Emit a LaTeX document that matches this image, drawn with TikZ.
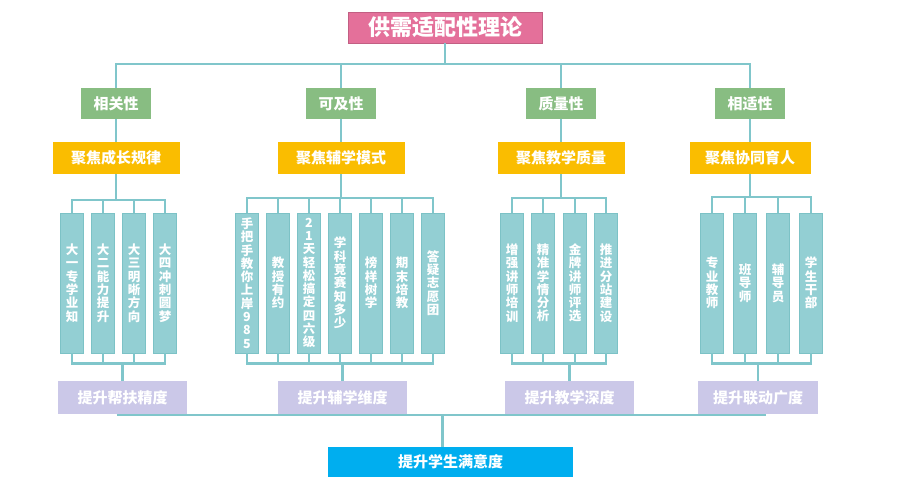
\documentclass[tikz,border=0pt]{standalone}
\usepackage{fontspec}
\newfontfamily\cjk{Noto Sans CJK SC}
\usetikzlibrary{positioning}
\definecolor{titlePink}{HTML}{E4709A}
\definecolor{axisGreen}{HTML}{88BD82}
\definecolor{focusGold}{HTML}{FABD00}
\definecolor{leafTeal}{HTML}{93CFD3}
\definecolor{leafEdge}{HTML}{7CC2C6}
\definecolor{linkTeal}{HTML}{80C6CB}
\definecolor{liftLilac}{HTML}{CBC8E8}
\definecolor{goalBlue}{HTML}{00AEEF}

\begin{document}
\begin{tikzpicture}[x=1pt, y=-1pt,
          link/.style={draw=linkTeal, line width=2.4pt},
          box/.style={inner sep=0pt, text=white, font=\cjk\bfseries\fontsize{15}{17}\selectfont},
          theory/.style={box, fill=titlePink, draw=titlePink!85!black, minimum width=194pt, minimum height=31pt, font=\cjk\bfseries\fontsize{22}{24}\selectfont},
          axis/.style={box, fill=axisGreen, minimum width=70pt, minimum height=31pt},
          focus/.style={box, fill=focusGold, minimum width=127pt, minimum height=32pt},
          leaf/.style={box, fill=leafTeal, draw=leafEdge, line width=0.6pt, minimum width=23pt, minimum height=140pt, align=center, font=\cjk\bfseries\fontsize{12.5}{13.3}\selectfont},
          lift/.style={box, fill=liftLilac, minimum width=129pt, minimum height=33pt},
          goal/.style={box, fill=goalBlue, minimum width=245pt, minimum height=30pt}]
        \useasboundingbox (0,0) rectangle (901,501);
        % top bus
        \coordinate (bus) at (445,64);
        \node[theory] (top) at (445,27.5) {供需适配性理论};
        \node[axis] (g1) at (116,103.5) {相关性};
        \node[axis] (g2) at (341,103.5) {可及性};
        \node[axis] (g3) at (561,103.5) {质量性};
        \node[axis] (g4) at (750,103.5) {相适性};
        \node[focus] (o1) at (116,158) {聚焦成长规律};
        \node[focus] (o2) at (341,158) {聚焦辅学模式};
        \node[focus] (o3) at (561,158) {聚焦教学质量};
        \node[focus, minimum width=121pt] (o4) at (750,158) {聚焦协同育人};
        % leaves
        \node[leaf] (l11) at (72,283) {大\\一\\专\\学\\业\\知};
        \node[leaf] (l12) at (103,283) {大\\二\\能\\力\\提\\升};
        \node[leaf] (l13) at (134,283) {大\\三\\明\\晰\\方\\向};
        \node[leaf] (l14) at (165,283) {大\\四\\冲\\刺\\圆\\梦};
        \node[leaf] (l21) at (247,283) {手\\把\\手\\教\\你\\上\\岸\\9\\8\\5};
        \node[leaf] (l22) at (278,283) {教\\授\\有\\约};
        \node[leaf] (l23) at (309,283) {2\\1\\天\\轻\\松\\搞\\定\\四\\六\\级};
        \node[leaf] (l24) at (340,283) {学\\科\\竞\\赛\\知\\多\\少};
        \node[leaf] (l25) at (371,283) {榜\\样\\树\\学};
        \node[leaf] (l26) at (402,283) {期\\末\\培\\教};
        \node[leaf] (l27) at (433,283) {答\\疑\\志\\愿\\团};
        \node[leaf] (l31) at (512,283) {增\\强\\讲\\师\\培\\训};
        \node[leaf] (l32) at (543,283) {精\\准\\学\\情\\分\\析};
        \node[leaf] (l33) at (575,283) {金\\牌\\讲\\师\\评\\选};
        \node[leaf] (l34) at (606,283) {推\\进\\分\\站\\建\\设};
        \node[leaf] (l41) at (712,283) {专\\业\\教\\师};
        \node[leaf] (l42) at (745,283) {班\\导\\师};
        \node[leaf] (l43) at (778,283) {辅\\导\\员};
        \node[leaf] (l44) at (811,283) {学\\生\\干\\部};
        \node[lift] (p1) at (122.5,397.5) {提升帮扶精度};
        \node[lift] (p2) at (342.5,397.5) {提升辅学维度};
        \node[lift] (p3) at (569.5,397.5) {提升教学深度};
        \node[lift, minimum width=120pt] (p4) at (758,397.5) {提升联动广度};
        \node[goal] (end) at (450.5,462) {提升学生满意度};
        % connectors
        \draw[link] (top.south) -- (bus);
        \draw[link] (g1.north) |- (bus) -| (g4.north);
        \draw[link] (g2.north) -- (g2.north |- bus);
        \draw[link] (g3.north) -- (g3.north |- bus);
        \foreach \g in {1,...,4}
          \draw[link] (g\g.south) -- (o\g.north);
        \foreach \k in {1,...,4} {
          \draw[link] (o1.south) -- ++(0,26) -| (l1\k.north);
          \draw[link] (l1\k.south) -- ++(0,10) -| (p1.north);
        }
        \foreach \k in {1,...,7} {
          \draw[link] (o2.south) -- ++(0,24) -| (l2\k.north);
          \draw[link] (l2\k.south) -- ++(0,10) -| (p2.north);
        }
        \foreach \k in {1,...,4} {
          \draw[link] (o3.south) -- ++(0,24) -| (l3\k.north);
          \draw[link] (l3\k.south) -- ++(0,10) -| (p3.north);
          \draw[link] (o4.south) -- ++(0,23) -| (l4\k.north);
          \draw[link] (l4\k.south) -- ++(0,10) -| (p4.north);
        }
        \draw[link] ([xshift=-6pt, yshift=-1pt]p1.south) -- ([xshift=8pt, yshift=-1pt]p4.south);
        \draw[link] ([xshift=-8pt]end.north) -- ([xshift=-8pt]end.north |- p1.south);
      \end{tikzpicture}
\end{document}
